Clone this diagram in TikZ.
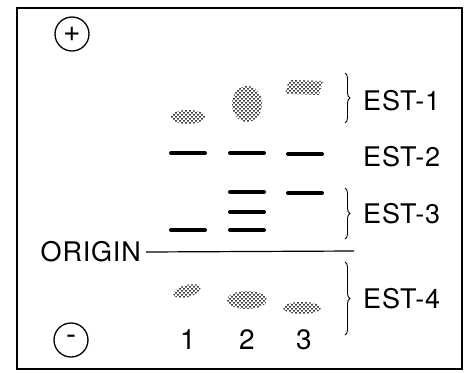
\documentclass[tikz,border=0pt]{standalone}
\usepackage{fontspec}
\setmainfont{TeX Gyre Heros}[LetterSpace=3]
\usepackage{tikz}
\usetikzlibrary{patterns,decorations.pathreplacing}
% coarse stipple for the diffuse spots
\pgfdeclarepatternformonly{stipple}{\pgfqpoint{-1.2pt}{-1.2pt}}{\pgfqpoint{5.2pt}{5.2pt}}{\pgfqpoint{4pt}{4pt}}
{
  \pgfpathcircle{\pgfqpoint{0pt}{0pt}}{1pt}
  \pgfpathcircle{\pgfqpoint{2pt}{2pt}}{1pt}
  \pgfusepath{fill}
}
\tikzstyle{band}=[line width=4pt,line cap=round]
\tikzstyle{spot}=[pattern=stipple]
\tikzstyle{est}=[font=\fontsize{27}{30}\selectfont,anchor=west,inner sep=0pt]
\tikzstyle{pole}=[draw,circle,line width=1.3pt,minimum size=34pt,inner sep=0pt,font=\fontsize{30}{30}\selectfont]

\begin{document}
\begin{tikzpicture}[x=1pt,y=-1pt]
  \useasboundingbox (0,0) rectangle (467,373);
  \draw[line width=2.5pt] (17,8) rectangle (462,369);
  % electrodes
  \node[pole] (plus) at (72,34) {+};
  \node[pole] (minus) at (71,340) {-};
  % origin of the run
  \node[est,anchor=east] (origin) at (141,252) {ORIGIN};
  \coordinate (origend) at (354,251);
  \draw[line width=1.2pt] (origin.east) ++(5,0) -- (origend);
  % sharp bands, lane centre / height
  \foreach \x/\y in {188/153, 247/153, 305/154,
                     247/192, 247/212, 247/230,
                     305/193, 188/230}
    \draw[band] (\x-17,\y) -- (\x+17,\y);
  % stippled spots
  \fill[spot] (188,117) ellipse [x radius=17pt,y radius=7pt];
  \fill[spot] (247,104) ellipse [x radius=15pt,y radius=18pt];
  \fill[spot] (289,80) -- (323,81) -- (319,95) -- (285,94) -- cycle;
  \fill[spot,rotate around={15:(187,291)}] (187,291) ellipse [x radius=14pt,y radius=6pt];
  \fill[spot] (247,300) ellipse [x radius=20pt,y radius=9pt];
  \fill[spot] (302,308) ellipse [x radius=19pt,y radius=6pt];
  % groups
  \foreach \top/\bot/\name in {{73/123/EST-1},
                               {188/239/EST-3},
                               {262/335/EST-4}}
    \draw[line width=0.9pt,decorate,decoration={brace,amplitude=5pt}]
      (345,\top) -- (345,\bot);
  \foreach \place/\name in {{(363,101)/est1},
                            {(363,157)/est2},
                            {(363,214)/est3},
                            {(363,299)/est4}}
    \node[est] (\name) at \place {};
  \node[est] at (est1.west) {EST-1};
  \node[est] at (est2.west) {EST-2};
  \node[est] at (est3.west) {EST-3};
  \node[est] at (est4.west) {EST-4};
  % lane numbers
  \foreach \x/\n in {188/1, 247/2, 304/3}
    \node[font=\fontsize{28}{28}\selectfont] (lane\n) at (\x,340) {\n};
\end{tikzpicture}
\end{document}
